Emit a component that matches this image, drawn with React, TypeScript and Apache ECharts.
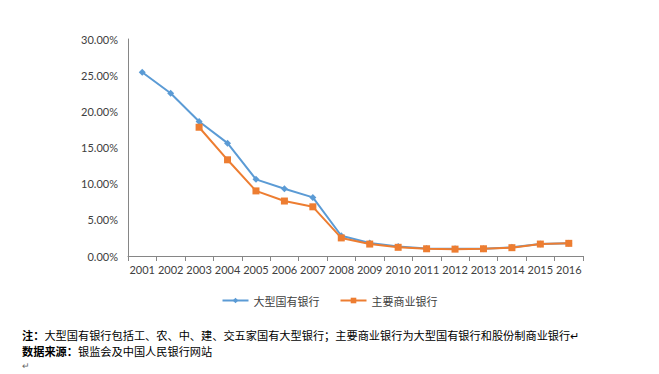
import React, { useEffect, useRef } from "react";
import * as echarts from "echarts";

const years = ["2001","2002","2003","2004","2005","2006","2007","2008","2009","2010","2011","2012","2013","2014","2015","2016"];
const bigStateBanks = [25.4, 22.5, 18.6, 15.6, 10.6, 9.3, 8.1, 2.8, 1.8, 1.3, 1.05, 1.0, 1.0, 1.2, 1.65, 1.75];
const majorCommercialBanks = [null, null, 17.8, 13.3, 9.0, 7.6, 6.8, 2.5, 1.65, 1.2, 1.0, 0.95, 1.0, 1.15, 1.65, 1.75];
const seriesNames = ["大型国有银行", "主要商业银行"];
const noteLines = ["大型国有银行包括工、农、中、建、交五家国有大型银行；主要商业银行为大型国有银行和股份制商业银行↵", "银监会及中国人民银行网站"];
const noteLabels = ["注：", "数据来源："];

export default function App() {
  const ref = useRef<HTMLDivElement>(null);
  useEffect(() => {
    const chart = echarts.init(ref.current!, null, { renderer: "svg" });
    const axisFont = "Lato, 'Liberation Sans', sans-serif";
    const cjk = "'Noto Sans CJK SC', sans-serif";
    const rich = {
      b: { fontFamily: cjk, fontSize: 11.2, fontWeight: "bold", fill: "#000" },
      n: { fontFamily: cjk, fontSize: 11.2, fill: "#000" },
    };
    chart.setOption({
      animation: false,
      backgroundColor: "#ffffff",
      grid: { left: 128, right: 76, top: 39, bottom: 118 },
      legend: {
        top: 290,
        left: "center",
        itemWidth: 26,
        itemHeight: 7,
        itemGap: 20,
        textStyle: { fontFamily: cjk, fontSize: 11, color: "#404040" },
        data: seriesNames,
      },
      xAxis: {
        type: "category",
        data: years,
        boundaryGap: true,
        axisLine: { lineStyle: { color: "#868686" } },
        axisTick: { show: true, alignWithLabel: false, length: 5, lineStyle: { color: "#868686" } },
        axisLabel: { color: "#404040", fontSize: 11, fontFamily: axisFont, margin: 8, interval: 0 },
      },
      yAxis: {
        type: "value",
        min: 0,
        max: 30,
        interval: 5,
        splitLine: { show: false },
        axisLine: { show: true, lineStyle: { color: "#868686" } },
        axisTick: { show: false },
        axisLabel: {
          color: "#404040",
          fontSize: 11,
          fontFamily: axisFont,
          margin: 10,
          formatter: (v: number) => v.toFixed(2) + "%",
        },
      },
      series: [
        {
          name: seriesNames[0],
          type: "line",
          data: bigStateBanks,
          symbol: "diamond",
          symbolSize: 7,
          lineStyle: { width: 2, color: "#5B9BD5" },
          itemStyle: { color: "#5B9BD5" },
          z: 2,
        },
        {
          name: seriesNames[1],
          type: "line",
          data: majorCommercialBanks,
          symbol: "rect",
          symbolSize: 7,
          lineStyle: { width: 2, color: "#ED7D31" },
          itemStyle: { color: "#ED7D31" },
          z: 3,
        },
      ],
      graphic: [
        {
          type: "text",
          left: 22,
          top: 329,
          style: { rich, text: `{b|${noteLabels[0]}}{n|${noteLines[0]}}` },
        },
        {
          type: "text",
          left: 22,
          top: 345,
          style: { rich, text: `{b|${noteLabels[1]}}{n|${noteLines[1]}}` },
        },
        {
          type: "text",
          left: 22,
          top: 361,
          style: { text: "↵", fontFamily: cjk, fontSize: 9, fill: "#666" },
        },
      ],
    });
    return () => chart.dispose();
  }, []);
  return <div ref={ref} style={{ position: "fixed", left: 0, top: 0, width: 659, height: 374 }} />;
}
